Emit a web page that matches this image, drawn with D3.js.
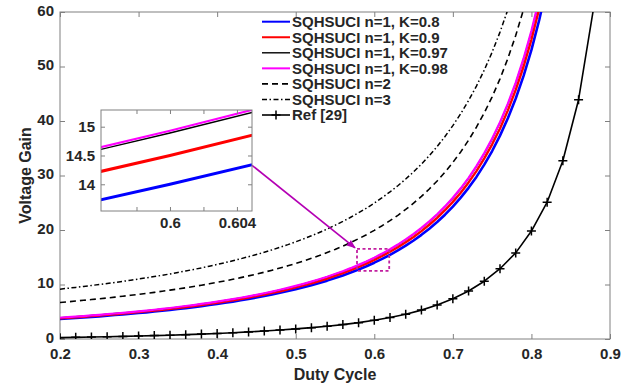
<!DOCTYPE html>
<html>
<head>
<meta charset="utf-8">
<script src="https://cdn.jsdelivr.net/npm/d3@7"></script>
<style>
  html, body { margin: 0; padding: 0; background: #fff; }
  svg { display: block; }
  text { font-family: "Liberation Sans", Arial, Helvetica, sans-serif; font-weight: bold; fill: #262626; }
</style>
</head>
<body>
<svg id="chart" width="636" height="388"></svg>
<script>
// Duty cycle grid for the SQHSUCI curves (step 0.01)
const duty = [0.20,0.21,0.22,0.23,0.24,0.25,0.26,0.27,0.28,0.29,
              0.30,0.31,0.32,0.33,0.34,0.35,0.36,0.37,0.38,0.39,
              0.40,0.41,0.42,0.43,0.44,0.45,0.46,0.47,0.48,0.49,
              0.50,0.51,0.52,0.53,0.54,0.55,0.56,0.57,0.58,0.59,
              0.60,0.61,0.62,0.63,0.64,0.65,0.66,0.67,0.68,0.69,
              0.70,0.71,0.72,0.73,0.74,0.75,0.76,0.77,0.78,0.79,
              0.80,0.81,0.82];

// Voltage gain, n=1, K=0.8
const gainK080 = [3.66,3.75,3.84,3.95,4.05,4.15,4.27,4.39,4.50,4.63,
                  4.76,4.89,5.04,5.19,5.34,5.50,5.67,5.84,6.03,6.23,
                  6.42,6.64,6.86,7.10,7.34,7.60,7.88,8.16,8.47,8.79,
                  9.13,9.49,9.87,10.28,10.71,11.18,11.67,12.19,12.75,13.35,
                  14.00,14.69,15.44,16.25,17.13,18.08,19.11,20.24,21.46,22.81,
                  24.30,25.93,27.74,29.74,31.99,34.49,37.31,40.50,44.12,48.27,
                  53.05,58.58,65.04];
// Voltage gain, n=1, K=0.9
const gainK090 = [3.79,3.88,3.98,4.09,4.20,4.30,4.42,4.55,4.66,4.80,
                  4.93,5.07,5.22,5.37,5.53,5.70,5.88,6.05,6.24,6.45,
                  6.65,6.88,7.11,7.35,7.60,7.88,8.16,8.45,8.77,9.10,
                  9.46,9.83,10.23,10.64,11.09,11.58,12.08,12.63,13.21,13.83,
                  14.50,15.22,16.00,16.83,17.74,18.72,19.79,20.96,22.23,23.63,
                  25.16,26.85,28.73,30.81,33.13,35.72,38.64,41.95,45.70,50.00,
                  54.94,60.67,67.36];
// Voltage gain, n=1, K=0.97
const gainK097 = [3.89,3.99,4.09,4.20,4.31,4.42,4.54,4.67,4.79,4.93,
                  5.06,5.20,5.35,5.51,5.67,5.85,6.03,6.21,6.41,6.62,
                  6.83,7.06,7.30,7.55,7.81,8.09,8.37,8.67,9.00,9.34,
                  9.71,10.09,10.50,10.93,11.39,11.88,12.40,12.96,13.56,14.20,
                  14.89,15.62,16.42,17.28,18.22,19.22,20.32,21.52,22.82,24.26,
                  25.83,27.57,29.49,31.62,34.01,36.67,39.67,43.06,46.91,51.33,
                  56.40,62.28,69.15];
// Voltage gain, n=1, K=0.98
const gainK098 = [3.90,4.00,4.10,4.21,4.32,4.43,4.55,4.68,4.80,4.94,
                  5.08,5.22,5.37,5.53,5.69,5.87,6.05,6.23,6.43,6.64,
                  6.85,7.08,7.32,7.57,7.83,8.11,8.40,8.70,9.03,9.37,
                  9.74,10.12,10.53,10.96,11.42,11.92,12.44,13.00,13.60,14.24,
                  14.93,15.67,16.47,17.33,18.27,19.28,20.38,21.58,22.89,24.33,
                  25.91,27.65,29.58,31.72,34.11,36.78,39.79,43.19,47.05,51.48,
                  56.57,62.47,69.36];
// Voltage gain, n=2
const gainN2 = [6.70,6.83,6.96,7.10,7.24,7.38,7.53,7.69,7.85,8.02,
                8.19,8.38,8.56,8.76,8.97,9.18,9.40,9.63,9.87,10.13,
                10.39,10.67,10.95,11.26,11.58,11.91,12.26,12.63,13.02,13.43,
                13.86,14.32,14.80,15.31,15.86,16.43,17.05,17.70,18.40,19.14,
                19.94,20.79,21.71,22.70,23.77,24.92,26.17,27.53,29.00,30.62,
                32.39,34.33,36.48,38.86,41.49,44.44,47.74,51.47,55.68,60.49,
                66.00];
// Voltage gain, n=3
const gainN3 = [9.15,9.31,9.47,9.64,9.82,10.00,10.18,10.38,10.58,10.78,
                11.00,11.22,11.45,11.69,11.94,12.20,12.48,12.76,13.05,13.36,
                13.68,14.01,14.36,14.72,15.10,15.50,15.92,16.36,16.83,17.31,
                17.83,18.37,18.94,19.54,20.18,20.86,21.57,22.34,23.15,24.01,
                24.94,25.93,26.99,28.12,29.35,30.67,32.09,33.64,35.32,37.15,
                39.15,41.34,43.75,46.41,49.36,52.64,56.31,60.43,65.09];

// Reference converter [29], sampled every 0.02
const refDuty = [0.20,0.22,0.24,0.26,0.28,0.30,0.32,0.34,0.36,0.38,
                 0.40,0.42,0.44,0.46,0.48,0.50,0.52,0.54,0.56,0.58,
                 0.60,0.62,0.64,0.66,0.68,0.70,0.72,0.74,0.76,0.78,
                 0.80,0.82,0.84,0.86,0.88];
const refGain = [0.25,0.30,0.36,0.42,0.48,0.55,0.62,0.70,0.80,0.90,
                 1.02,1.15,1.30,1.46,1.65,1.85,2.08,2.35,2.64,3.00,
                 3.43,3.95,4.55,5.30,6.22,7.40,8.80,10.60,12.90,15.80,
                 19.80,25.10,32.70,43.90,61.50];

// Axis ticks
const xTicks = [0.2,0.3,0.4,0.5,0.6,0.7,0.8,0.9];
const yTicks = [0,10,20,30,40,50,60];
const insetXTicks = [0.598,0.6,0.602,0.604];
const insetXLabels = ["", "0.6", "", "0.604"];
const insetYTicks = [14,14.5,15];

// Zoomed window [dMin, dMax, gMin, gMax] and inset ranges
const zoomBox = [0.578,0.619,12.5,16.55];
const insetDomainX = [0.59588,0.6049];
const insetDomainY = [13.536,15.29];

const legendLabels = ["SQHSUCI n=1, K=0.8","SQHSUCI n=1, K=0.9","SQHSUCI n=1, K=0.97",
                      "SQHSUCI n=1, K=0.98","SQHSUCI n=2","SQHSUCI n=3","Ref [29]"];

const series = [
  {name: legendLabels[0], x: duty, y: gainK080, color: "#0000ff", width: 2.6, dash: null, insetWidth: 3},
  {name: legendLabels[1], x: duty, y: gainK090, color: "#ff0000", width: 2.4, dash: null, insetWidth: 3},
  {name: legendLabels[2], x: duty, y: gainK097, color: "#000000", width: 1.4, dash: null, insetWidth: 1.4},
  {name: legendLabels[3], x: duty, y: gainK098, color: "#ff00ff", width: 2.2, dash: null, insetWidth: 2},
  {name: legendLabels[4], x: duty, y: gainN2, color: "#000000", width: 1.6, dash: "6,4", insetWidth: 1.6},
  {name: legendLabels[5], x: duty, y: gainN3, color: "#000000", width: 1.5, dash: "5,2.5,1.5,2.5", insetWidth: 1.5},
  {name: legendLabels[6], x: refDuty, y: refGain, color: "#000000", width: 1.6, dash: null, marker: true}
];

const svg = d3.select("#chart");
const axisColor = "#808080";

const plot = {left: 60, right: 610, top: 12, bottom: 339};
const x = d3.scaleLinear().domain([0.2, 0.9]).range([plot.left, plot.right]);
const y = d3.scaleLinear().domain([0, 60]).range([plot.bottom, plot.top]);

svg.append("clipPath").attr("id", "plotClip")
  .append("rect").attr("x", plot.left).attr("y", plot.top)
  .attr("width", plot.right - plot.left).attr("height", plot.bottom - plot.top);

function styleAxis(g) {
  g.select(".domain").remove();
  g.selectAll(".tick line").attr("stroke", axisColor).attr("stroke-width", 1);
  g.selectAll(".tick text").attr("fill", "#262626").style("font-size", "15px")
    .style("font-family", '"Liberation Sans", Arial, sans-serif').style("font-weight", "bold");
}

// Main axes (ticks pointing inward)
svg.append("g").attr("transform", `translate(0,${plot.bottom})`)
  .call(d3.axisBottom(x).tickValues(xTicks).tickSizeInner(-5).tickSizeOuter(0).tickPadding(9.5)
        .tickFormat(d3.format(".1f")))
  .call(styleAxis);
svg.append("g").attr("transform", `translate(${plot.left},0)`)
  .call(d3.axisLeft(y).tickValues(yTicks).tickSizeInner(-5).tickSizeOuter(0).tickPadding(6))
  .call(styleAxis)
  .call(g => g.selectAll(".tick text").attr("dy", "0.22em"));
svg.append("g").attr("transform", `translate(0,${plot.top})`)
  .call(d3.axisTop(x).tickValues(xTicks).tickSizeInner(-5).tickSizeOuter(0).tickFormat(""))
  .call(styleAxis);
svg.append("g").attr("transform", `translate(${plot.right},0)`)
  .call(d3.axisRight(y).tickValues(yTicks).tickSizeInner(-5).tickSizeOuter(0).tickFormat(""))
  .call(styleAxis);

svg.append("rect").attr("x", plot.left).attr("y", plot.top)
  .attr("width", plot.right - plot.left).attr("height", plot.bottom - plot.top)
  .attr("fill", "none").attr("stroke", axisColor).attr("stroke-width", 1);

// Axis titles
svg.append("text").attr("x", (plot.left + plot.right) / 2).attr("y", 380)
  .attr("text-anchor", "middle").style("font-size", "16px").text("Duty Cycle");
svg.append("text").attr("transform", `translate(25,${(plot.top + plot.bottom) / 2}) rotate(-90)`)
  .attr("text-anchor", "middle").attr("dy", "0.35em").style("font-size", "16px").text("Voltage Gain");

// Curves
const curveLayer = svg.append("g").attr("clip-path", "url(#plotClip)");
function lineFor(xs, ys) {
  return d3.line().x(d => xs(d[0])).y(d => ys(d[1]));
}
series.forEach(s => {
  const pts = s.y.map((v, i) => [s.x[i], v]);
  curveLayer.append("path").datum(pts)
    .attr("d", lineFor(x, y))
    .attr("fill", "none").attr("stroke", s.color).attr("stroke-width", s.width)
    .attr("stroke-dasharray", s.dash).attr("stroke-linejoin", "round");
  if (s.marker) {
    curveLayer.selectAll(null).data(pts).enter().append("path")
      .attr("transform", d => `translate(${x(d[0])},${y(d[1])})`)
      .attr("d", "M-4.5,0H4.5M0,-4.5V4.5")
      .attr("stroke", s.color).attr("stroke-width", 1.5);
  }
});

// Zoom window outline and pointer
const zoomColor = "#c21fa0";
svg.append("rect")
  .attr("x", x(zoomBox[0])).attr("y", y(zoomBox[3]))
  .attr("width", x(zoomBox[1]) - x(zoomBox[0])).attr("height", y(zoomBox[2]) - y(zoomBox[3]))
  .attr("fill", "none").attr("stroke", zoomColor).attr("stroke-width", 1.8)
  .attr("stroke-dasharray", "3,2.5");

// Inset
const inset = {left: 101, right: 252, top: 110, bottom: 211};
const xi = d3.scaleLinear().domain(insetDomainX).range([inset.left, inset.right]);
const yi = d3.scaleLinear().domain(insetDomainY).range([inset.bottom, inset.top]);

const arrowColor = "#b400b4";
svg.append("defs").append("marker").attr("id", "arrowHead")
  .attr("viewBox", "0 0 10 10").attr("refX", 9).attr("refY", 5)
  .attr("markerWidth", 9).attr("markerHeight", 9).attr("markerUnits", "userSpaceOnUse")
  .attr("orient", "auto")
  .append("path").attr("d", "M0,1L10,5L0,9Z").attr("fill", arrowColor);
svg.append("line")
  .attr("x1", inset.right).attr("y1", yi(14.33))
  .attr("x2", x(zoomBox[0]) - 2).attr("y2", y(zoomBox[3]) - 1)
  .attr("stroke", arrowColor).attr("stroke-width", 1.6)
  .attr("marker-end", "url(#arrowHead)");

svg.append("rect").attr("x", inset.left).attr("y", inset.top)
  .attr("width", inset.right - inset.left).attr("height", inset.bottom - inset.top)
  .attr("fill", "#fff");

svg.append("clipPath").attr("id", "insetClip")
  .append("rect").attr("x", inset.left).attr("y", inset.top)
  .attr("width", inset.right - inset.left).attr("height", inset.bottom - inset.top);

const insetLayer = svg.append("g").attr("clip-path", "url(#insetClip)");
series.slice(0, 4).forEach(s => {
  const pts = s.y.map((v, i) => [s.x[i], v]);
  insetLayer.append("path").datum(pts)
    .attr("d", lineFor(xi, yi))
    .attr("fill", "none").attr("stroke", s.color).attr("stroke-width", s.insetWidth);
});

svg.append("g").attr("transform", `translate(0,${inset.bottom})`)
  .call(d3.axisBottom(xi).tickValues(insetXTicks).tickSizeInner(-4).tickSizeOuter(0).tickPadding(6)
        .tickFormat((d, i) => insetXLabels[i]))
  .call(styleAxis);
svg.append("g").attr("transform", `translate(0,${inset.top})`)
  .call(d3.axisTop(xi).tickValues(insetXTicks).tickSizeInner(-4).tickSizeOuter(0).tickFormat(""))
  .call(styleAxis);
svg.append("g").attr("transform", `translate(${inset.left},0)`)
  .call(d3.axisLeft(yi).tickValues(insetYTicks).tickSizeInner(-4).tickSizeOuter(0).tickPadding(6)
        .tickFormat(d3.format("")))
  .call(styleAxis);
svg.append("g").attr("transform", `translate(${inset.right},0)`)
  .call(d3.axisRight(yi).tickValues(insetYTicks).tickSizeInner(-4).tickSizeOuter(0).tickFormat(""))
  .call(styleAxis);
svg.append("rect").attr("x", inset.left).attr("y", inset.top)
  .attr("width", inset.right - inset.left).attr("height", inset.bottom - inset.top)
  .attr("fill", "none").attr("stroke", axisColor).attr("stroke-width", 1);

// Legend
const legend = svg.append("g");
series.forEach((s, i) => {
  const ly = 21.7 + i * 15.55;
  legend.append("line").attr("x1", 262).attr("x2", 290).attr("y1", ly).attr("y2", ly)
    .attr("stroke", s.color).attr("stroke-width", Math.min(s.width, 2))
    .attr("stroke-dasharray", s.dash);
  if (s.marker) {
    legend.append("path").attr("transform", `translate(276,${ly})`)
      .attr("d", "M-4.5,0H4.5M0,-4.5V4.5").attr("stroke", s.color).attr("stroke-width", 1.5);
  }
  legend.append("text").attr("x", 292).attr("y", ly).attr("dy", "0.36em")
    .style("font-size", "15px").text(s.name);
});
</script>
</body>
</html>
